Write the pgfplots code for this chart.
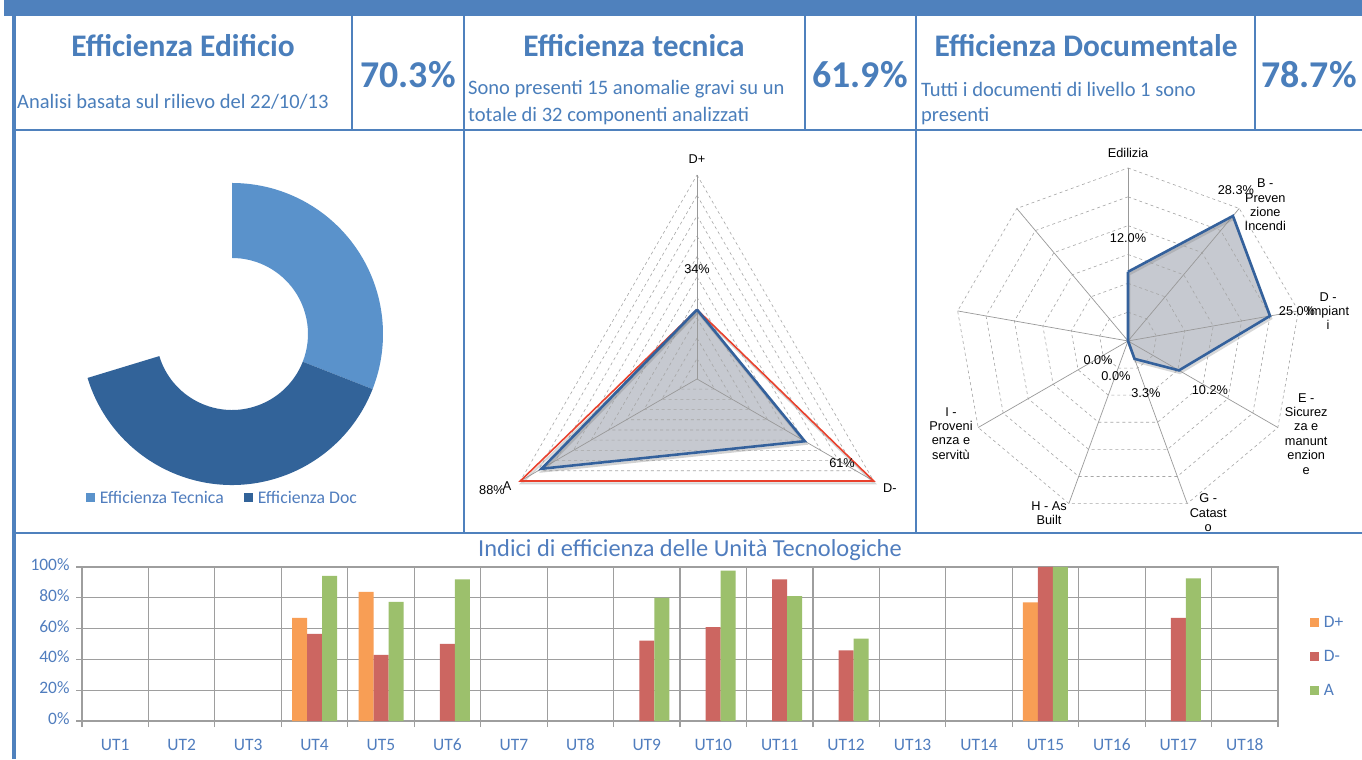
\documentclass[border=0pt]{standalone}
\usepackage{pgfplots}
\pgfplotsset{compat=1.18}
\usepackage{pgfplotstable}
\usepackage{fontspec}
\setmainfont{Carlito}
\newfontfamily\arialf{Liberation Sans}
\definecolor{frame}{RGB}{79,129,189}
\definecolor{hdr}{RGB}{74,126,187}
\definecolor{donA}{RGB}{90,146,203}
\definecolor{donB}{RGB}{50,99,153}
\definecolor{radblue}{RGB}{52,97,156}
\definecolor{radred}{RGB}{233,65,45}
\definecolor{radfill}{RGB}{180,184,193}
\definecolor{cDp}{RGB}{248,158,85}
\definecolor{cDm}{RGB}{204,102,97}
\definecolor{cA}{RGB}{156,192,108}
\definecolor{gridg}{RGB}{158,158,158}
\definecolor{ticklab}{RGB}{80,125,190}

% donut slices (third slice is the empty part)
\pgfplotstableread{
name value
Tecnica 61.9
Doc 78.7
Resto 59.4
}\donut

% triangle radar: angle radius(%)
\pgfplotstableread{
ang r
90 34
330 61
210 88
90 34
}\tecn
\pgfplotstableread{
ang r
90 34
330 100
210 100
90 34
}\tecnred

% nine-axis radar: angle value(%)
\pgfplotstableread{
ang r
90 12.0
50 28.3
10 25.0
-30 10.2
-70 3.3
-110 0
-150 0
170 0
130 0
90 12.0
}\docum

% bar chart
\pgfplotstableread{
x y
4 66.9
5 83.8
15 77.0
}\dplus
\pgfplotstableread{
x y
4 56.5
5 42.9
6 50.0
9 52.2
10 61.0
11 91.9
12 45.9
15 100
17 66.9
}\dminus
\pgfplotstableread{
x y
4 94.2
5 77.3
6 91.9
9 80.0
10 97.6
11 81.1
12 53.5
15 100
17 92.6
}\aval

\begin{document}
\begin{tikzpicture}[x=1bp,y=1bp]
\useasboundingbox (0,0) rectangle (1362,759);
\clip (0,0) rectangle (1362,759);
\fill[white] (0,0) rectangle (1362,759);
% banner
\fill[frame] (4,743) rectangle (1362,759);
% frame lines
\fill[frame] (11.5,0) rectangle (15.5,759);
\draw[frame, line width=1.5bp] (15,629) -- (1362,629);
\draw[frame, line width=1.5bp] (15,226) -- (1362,226);
\foreach \xx in {352,464,805,916,1255} \draw[frame, line width=1.5bp] (\xx,629) -- (\xx,743);
\foreach \xx in {464,916} \draw[frame, line width=1.5bp] (\xx,226) -- (\xx,629);

% header texts
\begin{scope}[text=hdr]
\node[font=\fontsize{31.5}{31.5}\selectfont\bfseries] at (183,713) {Efficienza Edificio};
\node[font=\fontsize{31.5}{31.5}\selectfont\bfseries] at (634,713) {Efficienza tecnica};
\node[font=\fontsize{31.5}{31.5}\selectfont\bfseries] at (1086,713) {Efficienza Documentale};
\node[font=\fontsize{38}{38}\selectfont\bfseries] at (408,684) {70.3\%};
\node[font=\fontsize{38}{38}\selectfont\bfseries] at (860,684) {61.9\%};
\node[font=\fontsize{38}{38}\selectfont\bfseries] at (1309,684) {78.7\%};
\node[font=\fontsize{20.6}{20.6}\selectfont, anchor=west, inner sep=0] at (17,657) {Analisi basata sul rilievo del 22/10/13};
\node[font=\fontsize{20.6}{20.6}\selectfont, anchor=west, inner sep=0] at (468,670) {Sono presenti 15 anomalie gravi su un};
\node[font=\fontsize{20.6}{20.6}\selectfont, anchor=west, inner sep=0] at (468,643) {totale di 32 componenti analizzati};
\node[font=\fontsize{20.6}{20.6}\selectfont, anchor=west, inner sep=0] at (921,670) {Tutti i documenti di livello 1 sono};
\node[font=\fontsize{20.6}{20.6}\selectfont, anchor=west, inner sep=0] at (921,643) {presenti};
\end{scope}

% ---------- donut ----------
\pgfplotstablegetelem{0}{value}\of\donut \let\vA\pgfplotsretval
\pgfplotstablegetelem{1}{value}\of\donut \let\vB\pgfplotsretval
\pgfplotstablegetelem{2}{value}\of\donut \let\vC\pgfplotsretval
\pgfmathsetmacro{\tot}{\vA+\vB+\vC}
\pgfmathsetmacro{\aB}{90-\vA/\tot*360}
\pgfmathsetmacro{\aC}{\aB-\vB/\tot*360}
\begin{axis}[at={(232bp,425bp)}, anchor=center, x=1bp, y=1bp,
  xmin=-160, xmax=160, ymin=-160, ymax=160, hide axis, clip=false,
  legend columns=2,
  legend style={at={(0.47,-0.012)}, anchor=center, draw=none, fill=none,
    font=\fontsize{17.8}{17.8}\selectfont, text=ticklab,
    /tikz/every even column/.append style={column sep=18bp}},
  legend image code/.code={\fill[#1] (0bp,-4.5bp) rectangle (9bp,4.5bp); \path (12bp,0bp);}]
\addlegendimage{fill=donA, draw=none}
\addlegendentry{Efficienza Tecnica}
\addlegendimage{fill=donB, draw=none}
\addlegendentry{Efficienza Doc}
\fill[donA] (axis cs:0,0) ++(90:151bp) arc[start angle=90, end angle=\aB, radius=151bp]
   -- ++(\aB:-75bp) arc[start angle=\aB, end angle=90, radius=76bp] -- cycle;
\fill[donB] (axis cs:0,0) ++(\aB:151bp) arc[start angle=\aB, end angle=\aC, radius=151bp]
   -- ++(\aC:-75bp) arc[start angle=\aC, end angle=\aB, radius=76bp] -- cycle;
\end{axis}

% ---------- triangle radar ----------
\begin{axis}[at={(697bp,380bp)}, anchor=center, x=2.04bp, y=2.04bp,
  xmin=-110, xmax=110, ymin=-110, ymax=110, hide axis, clip=false,
  every axis plot/.append style={data cs=polar}]
\addplot[fill=radfill, draw=none, fill opacity=0.75] table {\tecn};
\pgfplotsinvokeforeach{10,20,...,100}{
  \addplot[gray!70, dashed, line width=0.6bp] coordinates {(90,#1) (330,#1) (210,#1) (90,#1)};
}
\pgfplotsinvokeforeach{90,330,210}{
  \addplot[gray!80, line width=0.7bp] coordinates {(#1,0) (#1,100)};
}
\addplot[black!45, line width=2bp, opacity=0.35, shift={(1bp,-2.5bp)}] table {\tecnred};
\addplot[radred, line width=1.6bp] table {\tecnred};
\addplot[black!50, line width=2.5bp, opacity=0.35, shift={(1bp,-2.5bp)}] table {\tecn};
\addplot[radblue, line width=2.6bp] table {\tecn};
\begin{scope}[font=\arialf\fontsize{12.8}{12.8}\selectfont]
\node at (axis cs:0,107.8) {D+};
\node at (axis cs:94.5,-53.4) {D-};
\node at (axis cs:-93.1,-52.5) {A};
\node at (axis cs:-100.5,-54.4) {88\%};
\node at (axis cs:0,53.9) {34\%};
\node at (axis cs:71.1,-41.2) {61\%};
\end{scope}
\end{axis}

% ---------- nine-axis radar ----------
\begin{axis}[at={(1128bp,418bp)}, anchor=center, x=5.767bp, y=5.767bp,
  xmin=-35, xmax=35, ymin=-35, ymax=35, hide axis, clip=false,
  every axis plot/.append style={data cs=polar}]
\addplot[fill=radfill, draw=none, fill opacity=0.75] table {\docum};
\pgfplotsinvokeforeach{5,10,...,30}{
  \addplot[gray!70, dashed, line width=0.6bp] coordinates {(90,#1) (50,#1) (10,#1) (-30,#1) (-70,#1) (-110,#1) (-150,#1) (170,#1) (130,#1) (90,#1)};
}
\pgfplotsinvokeforeach{90,50,10,-30,-70,-110,-150,170,130}{
  \addplot[gray!80, line width=0.7bp] coordinates {(#1,0) (#1,30)};
}
\addplot[black!50, line width=2.5bp, opacity=0.3, shift={(1bp,-2.5bp)}] table {\docum};
\addplot[radblue, line width=2.6bp] table {\docum};
\begin{scope}[font=\arialf\fontsize{12.8}{14.4}\selectfont, align=center]
\node at (axis cs:0,32.6) {Edilizia};
\node at (axis cs:23.8,23.6) {B -\\Preven\\zione\\Incendi};
\node at (axis cs:34.7,5.2) {D -\\Impiant\\i};
\node at (axis cs:30.9,-16.1) {E -\\Sicurez\\za e\\manunt\\enzion\\e};
\node at (axis cs:13.9,-29.8) {G -\\Catast\\o};
\node at (axis cs:-13.7,-29.8) {H - As\\Built};
\node at (axis cs:-30.7,-16.0) {I -\\Proveni\\enza e\\servitù};
\node at (axis cs:0,17.9) {12.0\%};
\node at (axis cs:18.7,26.2) {28.3\%};
\node at (axis cs:29.3,5.2) {25.0\%};
\node at (axis cs:14.2,-8.5) {10.2\%};
\node at (axis cs:3.1,-9.0) {3.3\%};
\node at (axis cs:-5.2,-3.3) {0.0\%};
\node at (axis cs:-2.1,-6.1) {0.0\%};
\end{scope}
\end{axis}

% ---------- bar chart ----------
\node[font=\fontsize{24.5}{24.5}\selectfont, text=ticklab] at (690,209) {Indici di efficienza delle Unità Tecnologiche};
\begin{axis}[at={(82bp,38bp)}, anchor=south west, scale only axis,
  width=1196bp, height=154bp,
  ybar=0pt, bar width=15bp,
  xmin=0.5, xmax=18.5, ymin=0, ymax=100,
  xtick={1,...,18},
  xticklabels={UT1,UT2,UT3,UT4,UT5,UT6,UT7,UT8,UT9,UT10,UT11,UT12,UT13,UT14,UT15,UT16,UT17,UT18},
  typeset ticklabels with strut,
  major x tick style={draw=none},
  minor xtick={0.5,1.5,...,18.5},
  xminorgrids,
  minor grid style={gridg, line width=1.2bp},
  minor x tick style={gridg, line width=1.2bp},
  ytick={0,20,...,100},
  yticklabels={0\%,20\%,40\%,60\%,80\%,100\%},
  ymajorgrids,
  major grid style={gridg, line width=1.2bp},
  major y tick style={gridg, line width=1.2bp},
  tick align=outside, tick pos=left,
  major tick length=6bp, minor tick length=6bp,
  axis line style={gridg, line width=1.2bp},
  ticklabel style={font=\fontsize{17.5}{17.5}\selectfont, text=ticklab},
  xticklabel style={yshift=-8bp},
  yticklabel style={xshift=-3bp},
  legend style={at={(1.024,0.705)}, anchor=north west, draw=none, fill=none,
    font=\fontsize{17.5}{17.5}\selectfont, text=ticklab, row sep=17bp},
  legend cell align=left,
  legend image code/.code={\fill[#1] (0bp,-4.5bp) rectangle (9bp,4.5bp); \path (12bp,0bp);}]
\addplot[fill=cDp, draw=none] table {\dplus};
\addlegendentry{D+}
\addplot[fill=cDm, draw=none] table {\dminus};
\addlegendentry{D-}
\addplot[fill=cA, draw=none] table {\aval};
\addlegendentry{A}
\end{axis}
\end{tikzpicture}
\end{document}
